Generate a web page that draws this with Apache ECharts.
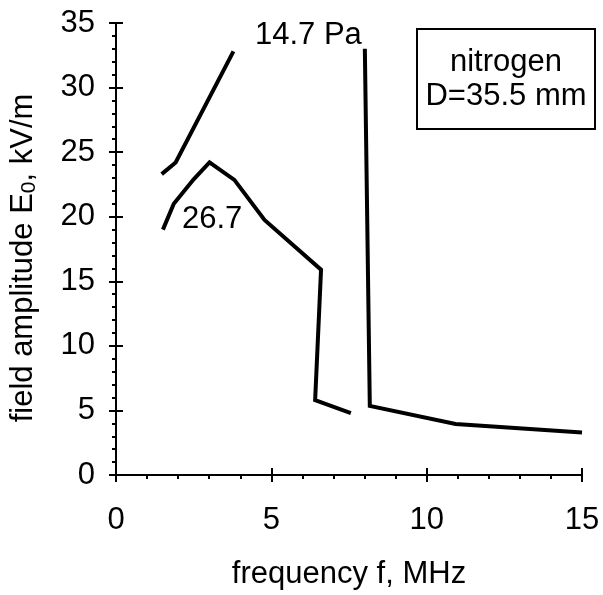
<!DOCTYPE html>
<html>
<head>
<meta charset="utf-8">
<script src="https://cdn.jsdelivr.net/npm/echarts@6/dist/echarts.min.js"></script>
<style>
  html, body { margin: 0; padding: 0; background: #fff; }
  #chart { width: 603px; height: 595px; }
</style>
</head>
<body>
<div id="chart"></div>
<script>
// 14.7 Pa curve (null = gap between the two branches)
const freq147 = [1.47, 1.92, 3.78, null, 8.01, 8.17, 10.93, 15.0]
const field147 = [23.3, 24.2, 32.8, null, 33.0, 5.35, 3.95, 3.3]

// 26.7 Pa curve
const freq267 = [1.51, 1.86, 2.5, 3.01, 3.81, 4.78, 6.6, 6.41, 7.56]
const field267 = [19.0, 21.0, 22.9, 24.2, 22.85, 19.75, 15.9, 5.8, 4.8]

const xTicks = [0, 5, 10, 15]
const yTicks = [0, 5, 10, 15, 20, 25, 30, 35]

const FONT = '"Liberation Sans", Arial, sans-serif'

function pairs(xs, ys) {
  return xs.map((x, i) => (x === null ? ['-', '-'] : [x, ys[i]]))
}

const chart = echarts.init(document.getElementById('chart'))

const axisCommon = {
  type: 'value',
  splitLine: { show: false },
  axisLine: { show: true, lineStyle: { color: '#000', width: 2 } },
  axisTick: { show: true, length: 7, lineStyle: { color: '#000', width: 2 } },
  minorTick: { show: true, splitNumber: 5, length: 4, lineStyle: { color: '#000', width: 2 } }
}

// second copy of each axis only draws the inner half of the crossing ticks
const innerTicks = {
  axisLine: { show: false },
  axisLabel: { show: false },
  axisTick: { show: true, inside: true, length: 7, lineStyle: { color: '#000', width: 2 } },
  minorTick: { show: true, splitNumber: 5, length: -4, lineStyle: { color: '#000', width: 2 } }
}

const xBase = Object.assign({}, axisCommon, {
  min: xTicks[0], max: xTicks[xTicks.length - 1], interval: 5
})
const yBase = Object.assign({}, axisCommon, {
  min: yTicks[0], max: yTicks[yTicks.length - 1], interval: 5
})

const option = {
  animation: false,
  backgroundColor: '#fff',
  grid: { left: 114, top: 23, right: 21, bottom: 120 },
  xAxis: [
    Object.assign({}, xBase, {
      position: 'bottom',
      axisLabel: { color: '#000', fontSize: 31, fontFamily: FONT, margin: 30 },
      name: 'frequency f, MHz',
      nameLocation: 'middle',
      nameGap: 84,
      nameTextStyle: { color: '#000', fontSize: 31, fontFamily: FONT }
    }),
    Object.assign({}, xBase, { position: 'bottom' }, innerTicks)
  ],
  yAxis: [
    Object.assign({}, yBase, {
      position: 'left',
      axisLabel: { color: '#000', fontSize: 31, fontFamily: FONT, margin: 21 },
      name: 'field amplitude E{sub|0}, kV/m',
      nameLocation: 'middle',
      nameGap: 76,
      nameTextStyle: {
        color: '#000', fontSize: 31, fontFamily: FONT,
        padding: [0, 18, 0, 0],
        rich: {
          sub: { fontSize: 21, fontFamily: FONT, color: '#000', verticalAlign: 'bottom', padding: [12, 0, 0, 0] }
        }
      }
    }),
    Object.assign({}, yBase, { position: 'left' }, innerTicks)
  ],
  series: [
    {
      name: '14.7 Pa',
      type: 'line',
      data: pairs(freq147, field147),
      connectNulls: false,
      showSymbol: false,
      symbol: 'none',
      lineStyle: { color: '#000', width: 4, join: 'miter' }
    },
    {
      name: '26.7 Pa',
      type: 'line',
      data: pairs(freq267, field267),
      showSymbol: false,
      symbol: 'none',
      lineStyle: { color: '#000', width: 4, join: 'miter' }
    }
  ],
  graphic: [
    {
      type: 'text', left: 255, top: 20, z: 10,
      style: { text: '14.7 Pa', fill: '#000', font: '31px ' + FONT }
    },
    {
      type: 'text', left: 182, top: 204, z: 10,
      style: { text: '26.7', fill: '#000', font: '31px ' + FONT }
    },
    {
      type: 'group', left: 416, top: 28, z: 10,
      children: [
        {
          type: 'rect',
          shape: { x: 0, y: 0, width: 178, height: 100 },
          style: { fill: '#fff', stroke: '#000', lineWidth: 2 }
        },
        {
          type: 'text', x: 89, y: 50,
          style: {
            text: 'nitrogen\nD=35.5 mm', fill: '#000', font: '31px ' + FONT,
            align: 'center', verticalAlign: 'middle', lineHeight: 34
          }
        }
      ]
    }
  ]
}

chart.setOption(option)
</script>
</body>
</html>
